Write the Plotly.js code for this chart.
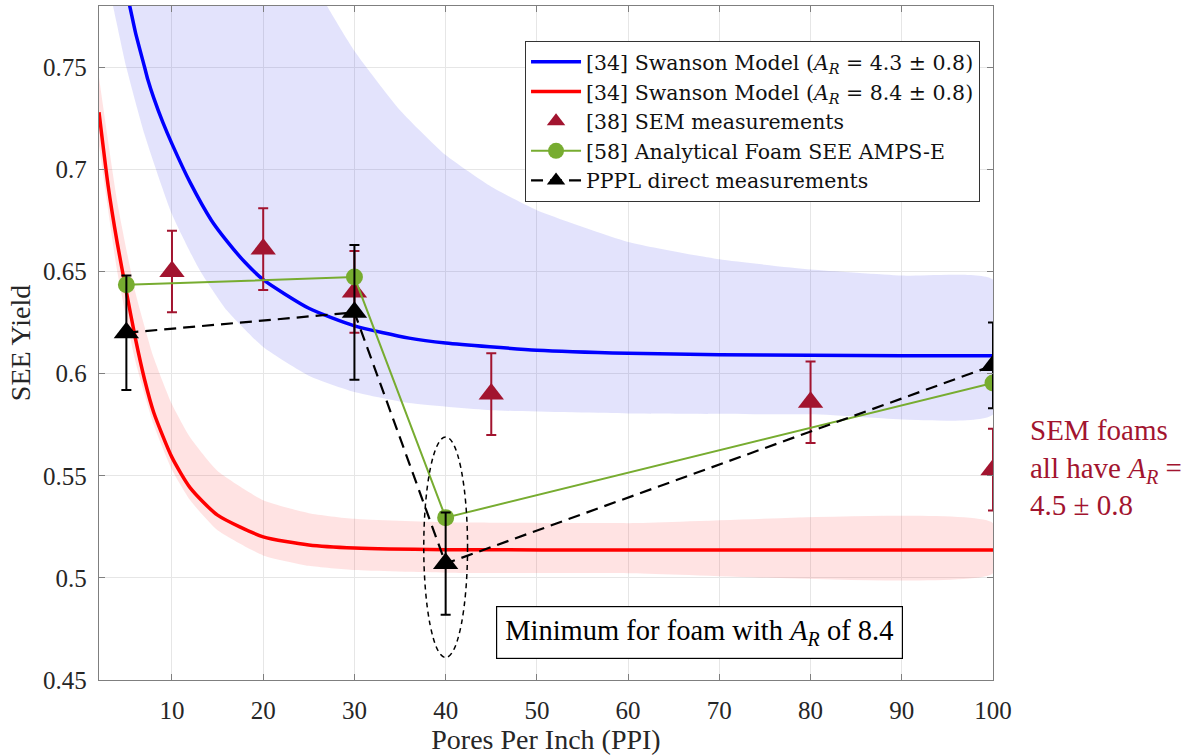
<!DOCTYPE html>
<html>
<head>
<meta charset="utf-8">
<script src="https://cdn.plot.ly/plotly-3.0.1.min.js"></script>
<style>html,body{margin:0;padding:0;background:#fff;}#chart{width:1203px;height:755px;}</style>
</head>
<body>
<div id="chart"></div>
<script>
// ---- Data ----
// Swanson model A_R = 4.3 (blue): centre curve and uncertainty band
const blueX      = [5.0, 5.37, 6, 7, 7.35, 8, 9, 10, 12, 14.33, 16, 18, 20, 25, 30, 36, 40, 50, 60, 70, 80, 90, 100];
const blueY      = [0.787, 0.780, 0.767, 0.750, 0.744, 0.735, 0.723, 0.7125, 0.6935, 0.675, 0.665, 0.6545, 0.646, 0.632, 0.6234, 0.6174, 0.615, 0.6115, 0.610, 0.6093, 0.609, 0.6088, 0.6087];
const blueLowX   = [3.0, 3.54, 5, 7, 10, 13, 16, 20, 25, 30, 36, 45, 60, 80, 100];
const blueLowY   = [0.792, 0.780, 0.750, 0.717, 0.678, 0.651, 0.631, 0.613, 0.599, 0.591, 0.5856, 0.5821, 0.5805, 0.5801, 0.580];
const blueHighX  = [25, 27, 30, 35, 40, 45, 50, 60, 70, 80, 90, 100];
const blueHighY  = [0.797, 0.780, 0.758, 0.729, 0.707, 0.6915, 0.680, 0.6645, 0.656, 0.651, 0.648, 0.646];

// Swanson model A_R = 8.4 (red): centre curve and uncertainty band
const redX       = [2, 3, 4, 5, 6, 7, 8, 10, 12, 15, 20, 25, 30, 40, 60, 100];
const redY       = [0.728, 0.692, 0.664, 0.640, 0.617, 0.597, 0.581, 0.559, 0.5441, 0.5307, 0.5201, 0.5161, 0.5146, 0.5138, 0.5137, 0.5137];
const redHighX   = [2, 4, 6, 8, 10, 12, 15, 20, 25, 30, 40, 60, 100];
const redHighY   = [0.745, 0.684, 0.6395, 0.6078, 0.585, 0.5687, 0.5523, 0.538, 0.5317, 0.5289, 0.5272, 0.5268, 0.5268];
const redLowX    = [2, 4, 6, 8, 10, 12, 15, 20, 25, 30, 40, 60, 100];
const redLowY    = [0.712, 0.650, 0.606, 0.575, 0.553, 0.538, 0.5233, 0.511, 0.5059, 0.5038, 0.5025, 0.5023, 0.5023];

// [38] SEM measurements
const semX   = [10, 20, 30, 45, 80, 100];
const semY   = [0.650, 0.661, 0.640, 0.590, 0.586, 0.553];
const semErr = [0.020, 0.020, 0.020, 0.020, 0.020, 0.020];

// [58] Analytical foam SEE AMPS-E
const anaX = [5, 30, 40, 100];
const anaY = [0.6435, 0.6473, 0.5295, 0.5954];

// PPPL direct measurements
const ppplX   = [5, 30, 40, 100];
const ppplY   = [0.620, 0.630, 0.507, 0.604];
const ppplErr = [0.028, 0.033, 0.025, 0.021];

// Axis ticks
const xTicks = [10, 20, 30, 40, 50, 60, 70, 80, 90, 100];
const yTicks = [0.45, 0.5, 0.55, 0.6, 0.65, 0.7, 0.75];
const yTickText = ['0.45', '0.5', '0.55', '0.6', '0.65', '0.7', '0.75'];

// Highlight ellipse around the 40 PPI minimum (data units)
const ellipseX = [37.6, 42.4];
const ellipseY = [0.461, 0.569];

// ---- Styling ----
const FONT = 'Liberation Serif';
const LEGFONT = 'DejaVu Serif';
const SEMC = '#A2142F';
const AR = '<i>A</i><sub><i>R</i></sub>';

function band(xh, yh, xl, yl) {
  return {x: xh.concat(xl.slice().reverse()), y: yh.concat(yl.slice().reverse())};
}
const bBand = band(blueHighX, blueHighY, blueLowX, blueLowY);
const rBand = band(redHighX, redHighY, redLowX, redLowY);

const traces = [
  {x: bBand.x, y: bBand.y, type: 'scatter', mode: 'lines', fill: 'toself',
   fillcolor: 'rgba(40,40,235,0.13)', line: {width: 0, shape: 'spline', smoothing: 0.5}, showlegend: false, hoverinfo: 'skip'},
  {x: rBand.x, y: rBand.y, type: 'scatter', mode: 'lines', fill: 'toself',
   fillcolor: 'rgba(255,40,40,0.13)', line: {width: 0, shape: 'spline', smoothing: 0.5}, showlegend: false, hoverinfo: 'skip'},
  {x: blueX, y: blueY, type: 'scatter', mode: 'lines', line: {color: '#0000FF', width: 3.5, shape: 'spline', smoothing: 0.6},
   name: '[34] Swanson Model (' + AR + ' = 4.3 ± 0.8)'},
  {x: redX, y: redY, type: 'scatter', mode: 'lines', line: {color: '#FF0000', width: 3.5, shape: 'spline', smoothing: 0.6},
   name: '[34] Swanson Model (' + AR + ' = 8.4 ± 0.8)'},
  {x: semX, y: semY, type: 'scatter', mode: 'markers',
   marker: {symbol: 'triangle-up', size: 22, color: SEMC},
   error_y: {type: 'data', array: semErr, visible: true, color: SEMC, thickness: 2, width: 5},
   name: '[38] SEM measurements'},
  {x: anaX, y: anaY, type: 'scatter', mode: 'lines+markers',
   line: {color: '#77AC30', width: 2}, marker: {symbol: 'circle', size: 17, color: '#77AC30'},
   name: '[58] Analytical Foam SEE AMPS-E'},
  {x: ppplX, y: ppplY, type: 'scatter', mode: 'lines+markers',
   line: {color: '#000000', width: 2.2, dash: '12px,7px'},
   marker: {symbol: 'triangle-up', size: 22, color: '#000000'},
   error_y: {type: 'data', array: ppplErr, visible: true, color: '#000000', thickness: 2, width: 5},
   name: 'PPPL direct measurements'}
];

const axisCommon = {
  showline: true, linecolor: '#7f7f7f', linewidth: 1.2, mirror: 'allticks',
  ticks: 'inside', ticklen: 6, tickcolor: '#7f7f7f', tickwidth: 1,
  showgrid: true, gridcolor: '#e6e6e6', gridwidth: 1, zeroline: false,
  tickfont: {family: FONT, size: 25, color: '#262626'}
};

const layout = {
  width: 1203, height: 755,
  margin: {l: 99, r: 210, t: 6, b: 75},
  paper_bgcolor: '#ffffff', plot_bgcolor: '#ffffff',
  font: {family: FONT, color: '#262626'},
  showlegend: true,
  xaxis: Object.assign({}, axisCommon, {
    range: [2, 100], tickmode: 'array', tickvals: xTicks, ticklabelstandoff: 8,
    title: {text: 'Pores Per Inch (PPI)', font: {family: FONT, size: 28, color: '#262626'}, standoff: 6}
  }),
  yaxis: Object.assign({}, axisCommon, {
    range: [0.45, 0.78], tickmode: 'array', tickvals: yTicks, ticktext: yTickText, ticklabelstandoff: 6,
    title: {text: 'SEE Yield', font: {family: FONT, size: 28, color: '#262626'}, standoff: 4}
  }),
  legend: {
    x: 0.9855, xanchor: 'right', y: 0.948, yanchor: 'top',
    bgcolor: '#ffffff', bordercolor: '#333333', borderwidth: 1,
    font: {family: LEGFONT, size: 20.5, color: '#111111'}, itemwidth: 50, tracegroupgap: 0
  },
  shapes: [
    {type: 'circle', xref: 'x', yref: 'y', x0: ellipseX[0], x1: ellipseX[1], y0: ellipseY[0], y1: ellipseY[1],
     line: {color: '#000000', width: 1.5, dash: '5px,4px'}}
  ],
  annotations: [
    {xref: 'x', yref: 'y', x: 67.8, y: 0.4732, showarrow: false,
     text: 'Minimum for foam with ' + AR + ' of 8.4',
     font: {family: FONT, size: 28.5, color: '#000000'},
     bgcolor: '#ffffff', bordercolor: '#000000', borderwidth: 1.2, borderpad: 8},
    {xref: 'paper', yref: 'y', x: 1.039, y: 0.5539, xanchor: 'left', yanchor: 'middle', align: 'left', showarrow: false,
     text: 'SEM foams<br>all have ' + AR + ' =<br>4.5 ± 0.8',
     font: {family: FONT, size: 29, color: SEMC}}
  ]
};

Plotly.newPlot('chart', traces, layout, {displayModeBar: false, staticPlot: true});
</script>
</body>
</html>
